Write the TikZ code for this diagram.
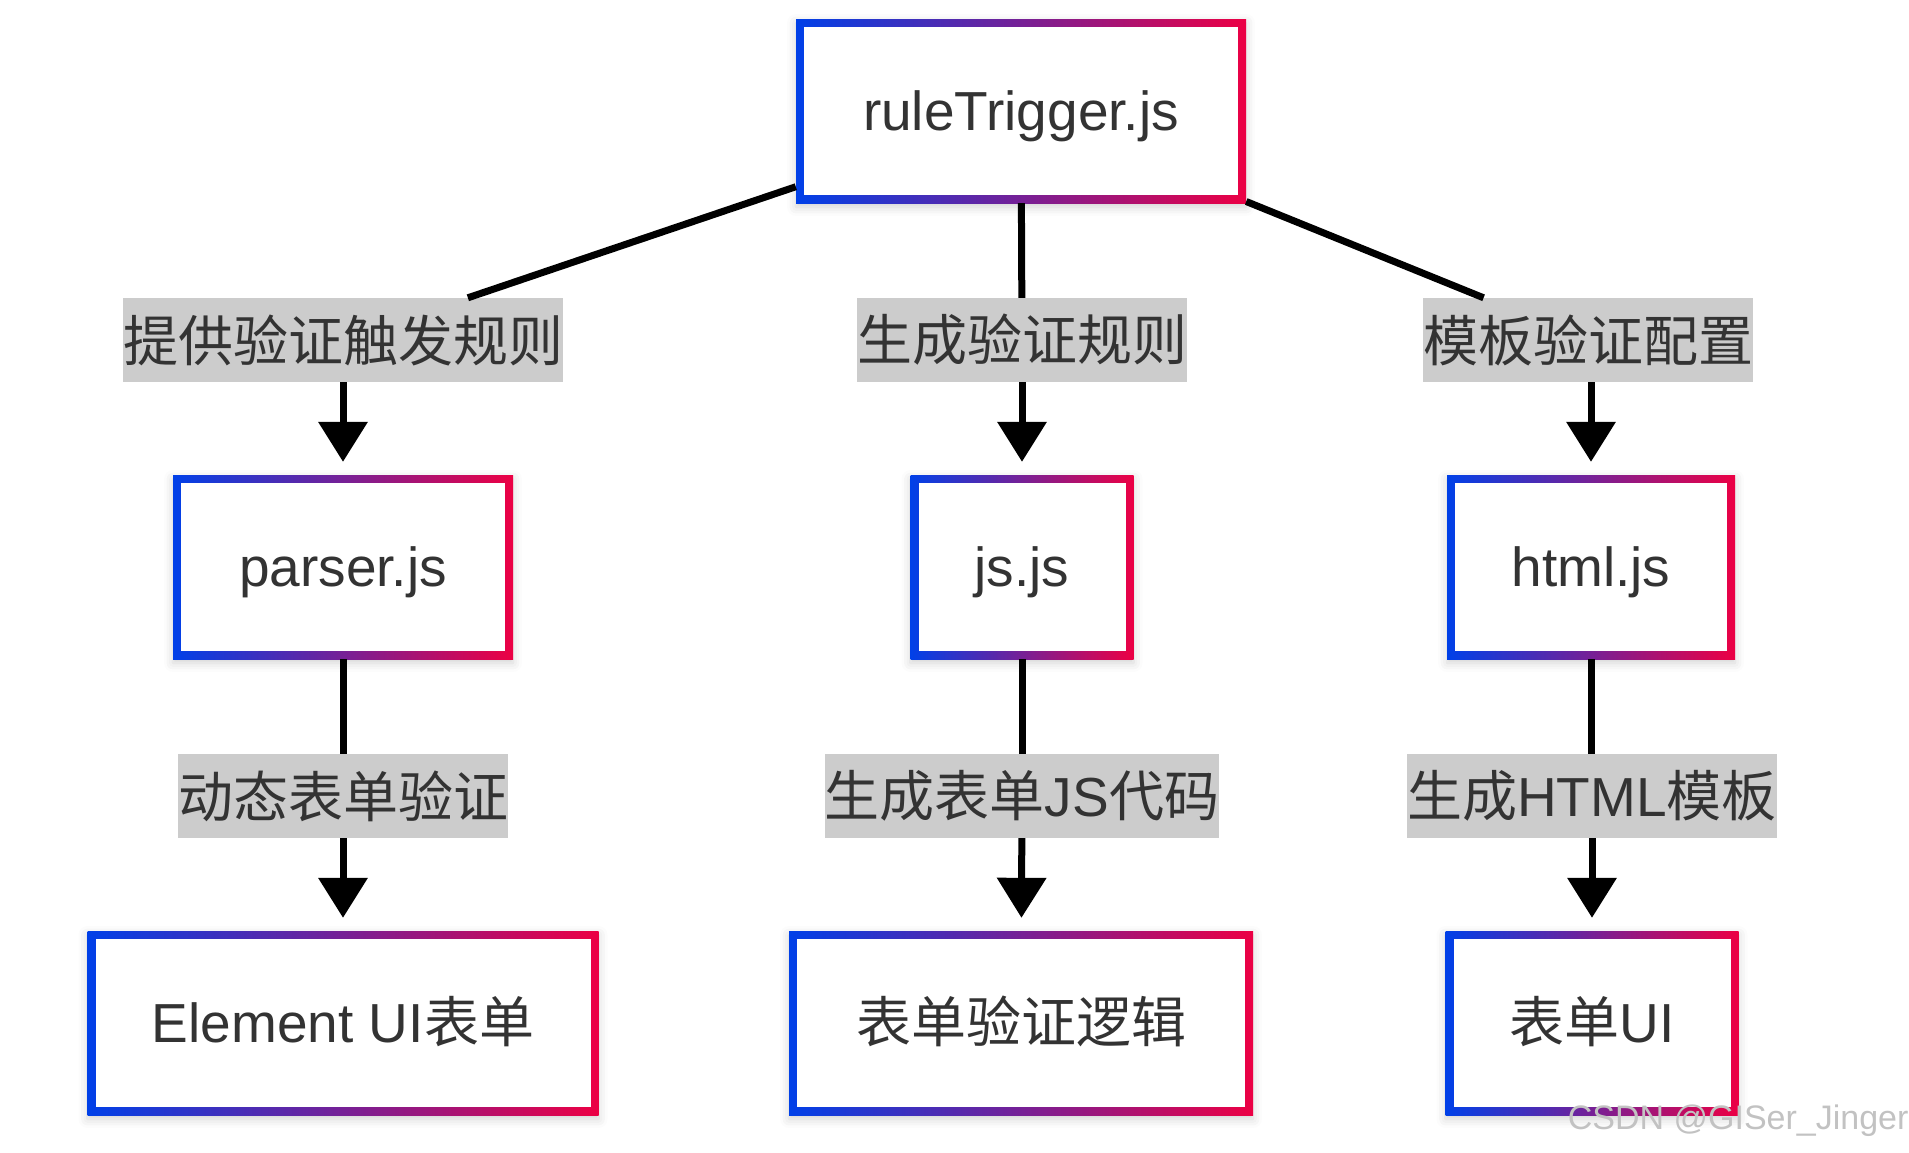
\documentclass[tikz,border=0pt]{standalone}
\usepackage{fontspec}
\setmainfont{Liberation Sans}
\newfontfamily\cjk{Noto Sans CJK SC}
\usetikzlibrary{arrows.meta,shadows.blur}
\definecolor{cb}{RGB}{0,64,232}
\definecolor{cr}{RGB}{236,0,68}
\definecolor{txt}{HTML}{333333}
\definecolor{lblbg}{HTML}{CCCCCC}
\begin{document}
\begin{tikzpicture}[x=1pt,y=-1pt,
  gbox/.style={minimum width=#1, minimum height=184pt, inner sep=0pt, fill=white, text=txt,
    text height=38pt, text depth=0pt,
    font=\fontsize{55}{60}\selectfont,
    blur shadow={shadow xshift=0pt, shadow yshift=-4pt, shadow blur radius=9pt, shadow opacity=18},
    path picture={
      \shade[left color=cb, right color=cr] (path picture bounding box.south west) rectangle (path picture bounding box.north east);
      \fill[white] ([shift={(8pt,8pt)}]path picture bounding box.south west) rectangle ([shift={(-8pt,-8pt)}]path picture bounding box.north east);
    }},
  lbl/.style={fill=lblbg, text=txt, font=\fontsize{55}{60}\selectfont\cjk, inner xsep=0pt, inner ysep=0pt, minimum height=84pt},
  conn/.style={line width=7pt, draw=black},
  arr/.style={conn, -{Triangle[width=48pt,length=40pt]}, shorten >=13pt}
]
\useasboundingbox (0,0) rectangle (1909,1152);

% boxes
\node[gbox=450pt] (top) at (1021,111) {ruleTrigger.js};
\node[gbox=340pt] (parser) at (343,567) {parser.js};
\node[gbox=223pt] (jsjs) at (1022,567) {js.js};
\node[gbox=288pt] (html) at (1591,567) {html.js};
\node[gbox=511pt] (elem) at (343,1023) {Element UI{\cjk 表单}};
\node[gbox=464pt] (logic) at (1021,1023) {{\cjk 表单验证逻辑}};
\node[gbox=293pt] (formui) at (1592,1023) {{\cjk 表单}UI};

% labels
\node[lbl] (l1) at (343,340) {提供验证触发规则};
\node[lbl] (l2) at (1022,340) {生成验证规则};
\node[lbl] (l3) at (1588,340) {模板验证配置};
\node[lbl] (l4) at (343,796) {动态表单验证};
\node[lbl] (l5) at (1022,796) {生成表单{\rmfamily JS}代码};
\node[lbl] (l6) at (1592,796) {生成{\rmfamily HTML}模板};

% connectors
\draw[conn] (top) -- (l1);
\draw[conn] (top) -- (l2);
\draw[conn] (top) -- (l3);
\draw[arr] (l1) -- (parser);
\draw[arr] (l2) -- (jsjs);
\draw[arr] (l3.south -| html) -- (html);
\draw[conn] (parser) -- (l4);
\draw[conn] (jsjs) -- (l5);
\draw[conn] (html.south) -- (html.south |- l6.north);
\draw[arr] (l4) -- (elem);
\draw[arr] (l5) -- (logic);
\draw[arr] (l6.south -| formui) -- (formui);

% watermark
\node[anchor=east, text=black!24, font=\fontsize{34}{40}\selectfont] (wm) at (1912,1121) {CSDN @GISer\_Jinger};
\end{tikzpicture}
\end{document}
